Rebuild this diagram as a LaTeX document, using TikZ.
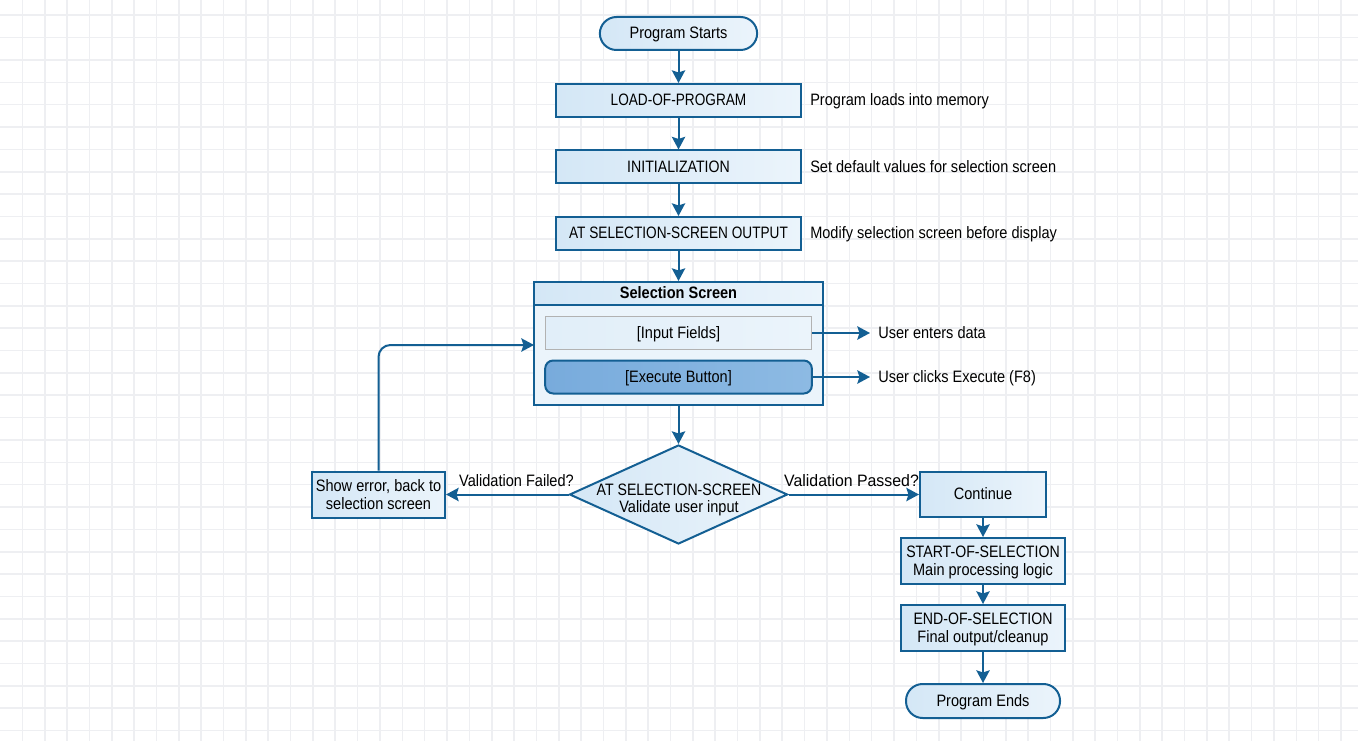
\documentclass[tikz,border=0pt]{standalone}
\usepackage{fontspec}
\setmainfont[FakeStretch=0.88]{Liberation Sans}
\newfontfamily\capA[FakeStretch=0.825]{Liberation Sans}
\newfontfamily\capB[FakeStretch=0.855]{Liberation Sans}
\newfontfamily\wideL[FakeStretch=0.96]{Liberation Sans}
\usetikzlibrary{arrows.meta,shapes.geometric}
\definecolor{edge}{HTML}{135F93}
\definecolor{fillA}{HTML}{D4E7F6}
\definecolor{fillB}{HTML}{EBF4FB}
\definecolor{btnA}{HTML}{78ABDC}
\definecolor{btnB}{HTML}{8DBAE3}
\definecolor{gridc}{HTML}{EEEFF2}
\newcommand{\st}{\rule[-0.8pt]{0pt}{11.2pt}}
\tikzset{
  x=0.75pt,y=-0.75pt,
  base/.style={draw=edge,line width=1.5pt,inner sep=0pt,align=center,font=\fontsize{12.4}{13.6}\selectfont,text=black,left color=fillA,right color=fillB},
  proc/.style={base,rectangle},
  one/.style={text height=8.9pt,text depth=0.8pt},
  term/.style={base,one,rounded corners=12.5pt},
  note/.style={one,inner sep=0pt,anchor=west,font=\fontsize{12.4}{14}\selectfont,text=black},
  lab/.style={one,inner sep=0pt,font=\fontsize{12.4}{14}\selectfont,text=black},
  flow/.style={draw=edge,line width=1.5pt,-{Stealth[length=9.5pt,width=10pt,inset=1.6pt]}},
}
\begin{document}
\begin{tikzpicture}
\useasboundingbox (0,0) rectangle (1358,741);
\fill[white] (0,0) rectangle (1358,741);
\foreach \k in {1,...,60} {\fill[gridc] (22.35*\k-0.8,0) rectangle (22.35*\k+0.8,741);}
\foreach \k in {0,...,32} {\fill[gridc] (0,15.3+22.35*\k-0.8) rectangle (1358,15.3+22.35*\k+0.8);}

\node[term,minimum width=118pt,minimum height=24.75pt] (start) at (678.5,33.5) {Program Starts};
\node[proc,one,minimum width=184pt,minimum height=24.75pt] (load) at (678.5,100.5) {\capA LOAD-OF-PROGRAM};
\node[proc,one,minimum width=184pt,minimum height=24.75pt] (init) at (678.5,167) {\capB INITIALIZATION};
\node[proc,one,minimum width=184pt,minimum height=24.75pt] (sso) at (678.5,233.5) {\capA AT SELECTION-SCREEN OUTPUT};

\node[note] (nload) at (810,100.5) {Program loads into memory};
\node[note] (ninit) at (810,167) {Set default values for selection screen};
\node[note] (nsso) at (810,233.5) {Modify selection screen before display};

\node[proc,minimum width=216.75pt,minimum height=92.25pt,left color=fillB,right color=fillB] (sel) at (678.5,343.5) {};
\node[proc,text height=8.1pt,text depth=0.8pt,minimum width=216.75pt,minimum height=17.25pt,font=\fontsize{12.4}{14}\selectfont\bfseries] (head) at (678.5,293.5) {Selection Screen};
\node[rectangle,one,draw=black!30,line width=0.7pt,inner sep=0pt,left color=fillA!70!white,right color=fillB,minimum width=200pt,minimum height=24.75pt,font=\fontsize{12.4}{14}\selectfont] (input) at (678.5,333) {[Input Fields]};
\node[base,one,rounded corners=6pt,left color=btnA,right color=btnB,minimum width=200pt,minimum height=24.75pt] (exec) at (678.5,377) {[Execute Button]};

\node[note] (nin) at (878,333) {User enters data};
\node[note] (nex) at (878,377) {User clicks Execute (F8)};
\coordinate (cin) at (870,333);
\coordinate (cex) at (870,377);
\coordinate (loopin) at (534,345);

\node[base,diamond,shape aspect=2.2,minimum width=163.5pt,minimum height=74.25pt] (dec) at (678.5,494.5) {};
\node[inner sep=0pt,align=center,font=\fontsize{12.4}{12.9}\selectfont\capB,text=black] (dect) at (679,499) {\st AT SELECTION-SCREEN\\\st{\fontspec[FakeStretch=0.88]{Liberation Sans}Validate user input}};

\node[proc,minimum width=99.75pt,minimum height=34.5pt] (err) at (378.5,494.5) {\st Show error, back to\\\st selection screen};
\node[proc,minimum width=94.5pt,minimum height=33.75pt,one] (cont) at (983,494.5) {Continue};
\node[proc,minimum width=123pt,minimum height=34.5pt] (sos) at (983,561) {\st{\capB START-OF-SELECTION}\\\st Main processing logic};
\node[proc,minimum width=123pt,minimum height=34.5pt] (eos) at (983,628) {\st{\capB END-OF-SELECTION}\\\st Final output/cleanup};
\node[term,minimum width=115.5pt,minimum height=25.5pt] (stop) at (983,701) {Program Ends};

\node[lab] (lfail) at (516.5,481) {Validation Failed?};
\node[lab,font=\fontsize{12.4}{14}\selectfont\wideL] (lpass) at (851.5,481) {Validation Passed?};

\draw[flow] (start) -- (load);
\draw[flow] (load) -- (init);
\draw[flow] (init) -- (sso);
\draw[flow] (sso) -- (head);
\draw[flow] (input) -- (cin);
\draw[flow] (exec) -- (cex);
\draw[flow] (sel) -- (dec);
\draw[flow] (dec) -- (err);
\draw[flow] (dec) -- (cont);
\draw[flow,rounded corners=9pt] (err.north) |- (loopin);
\draw[flow] (cont) -- (sos);
\draw[flow] (sos) -- (eos);
\draw[flow] (eos) -- (stop);
\end{tikzpicture}
\end{document}
